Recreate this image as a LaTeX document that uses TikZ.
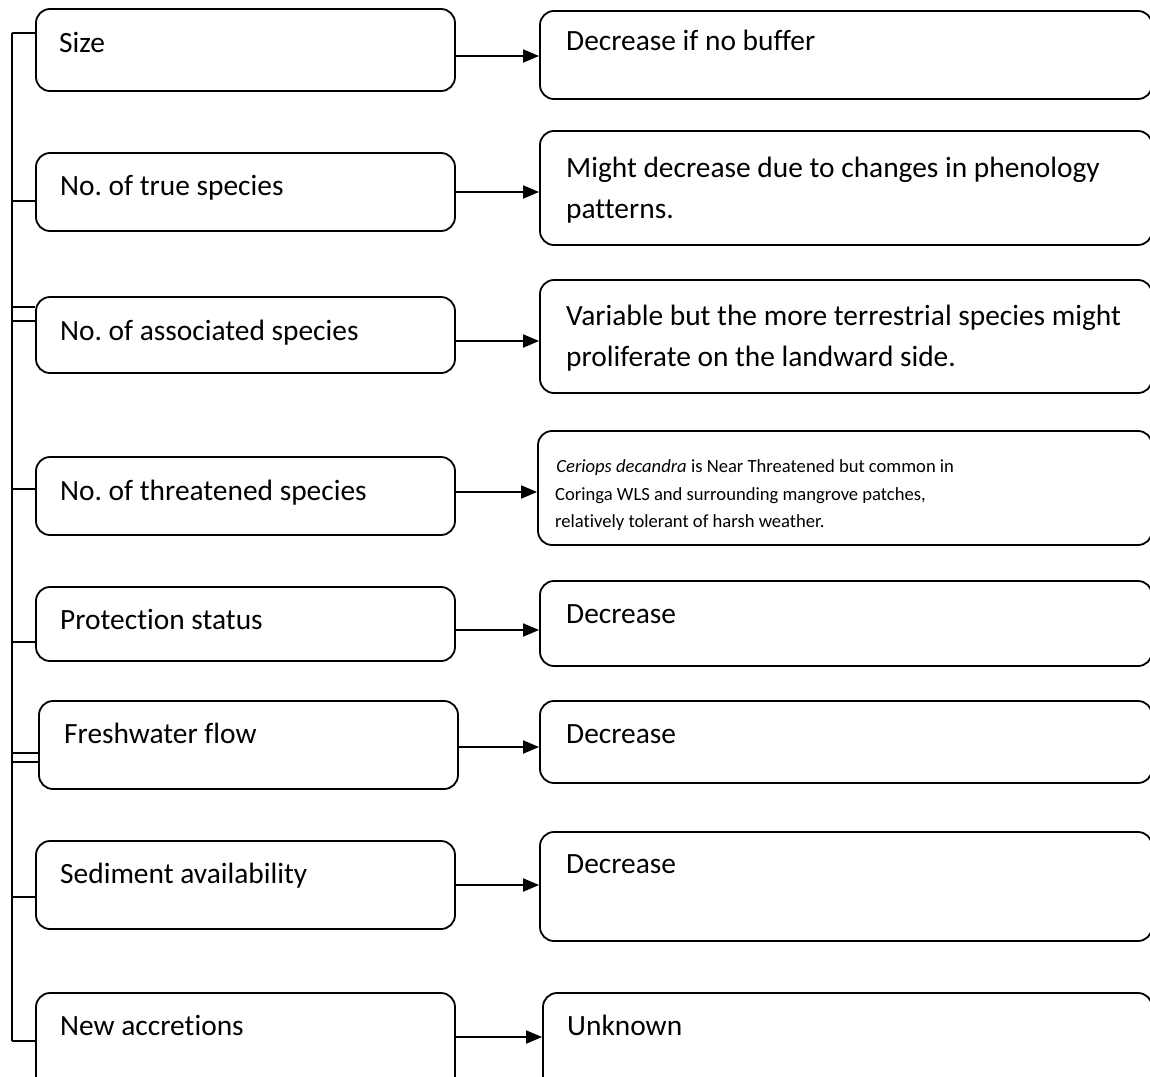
\documentclass[tikz,border=0pt]{standalone}
\usepackage{fontspec}
\setmainfont{Carlito}[Ligatures={NoCommon}]
\usetikzlibrary{arrows.meta}
\frenchspacing
\begin{document}
\begin{tikzpicture}[x=1pt,y=-1pt,
  bx/.style={draw=black,line width=1.8pt,rounded corners=14pt,inner sep=0pt,fill=none},
  lb/.style={bx,minimum width=419pt},
  rb/.style={bx,minimum width=612pt},
  txt/.style={anchor=base west,inner sep=0pt,font=\fontsize{29.4}{34}\selectfont},
  stxt/.style={anchor=base west,inner sep=0pt,font=\fontsize{18.6}{22}\selectfont},
  ln/.style={draw=black,line width=1.8pt},
  arr/.style={draw=black,line width=1.8pt,-{Triangle[length=16pt,width=13pt]}}]
\useasboundingbox (0,0) rectangle (1150,1076);
% left boxes
\node[lb,minimum height=82pt] (L1) at (245.5,50) {};
\node[lb,minimum height=78pt] (L2) at (245.5,192) {};
\node[lb,minimum height=76pt] (L3) at (245.5,335) {};
\node[lb,minimum height=78pt] (L4) at (245.5,496) {};
\node[lb,minimum height=74pt] (L5) at (245.5,624) {};
\node[lb,minimum height=88pt] (L6) at (248.5,745) {};
\node[lb,minimum height=88pt] (L7) at (245.5,885) {};
\node[lb,minimum height=97pt] (L8) at (245.5,1041.5) {};
% right boxes
\node[rb,minimum height=88pt] (R1) at (846,55) {};
\node[rb,minimum height=114pt] (R2) at (846,188) {};
\node[rb,minimum height=113pt] (R3) at (846,336.5) {};
\node[bx,minimum width=614pt,minimum height=114pt] (R4) at (845,488) {};
\node[rb,minimum height=85pt] (R5) at (846,623.5) {};
\node[rb,minimum height=82pt] (R6) at (846,742) {};
\node[rb,minimum height=109pt] (R7) at (846,886.5) {};
\node[bx,minimum width=609pt,minimum height=97pt] (R8) at (847.5,1041.5) {};
% left texts
\node[txt] (t1) at (59,52) {Size};
\node[txt] (t2) at (60,195) {No. of true species};
\node[txt] (t3) at (60,340) {No. of associated species};
\node[txt] (t4) at (60,500) {No. of threatened species};
\node[txt] (t5) at (60,629) {Protection status};
\node[txt] (t6) at (64,743) {Freshwater flow};
\node[txt] (t7) at (60,883) {Sediment availability};
\node[txt] (t8) at (60,1035) {New accretions};
% right texts
\node[txt] (r1) at (566,50) {Decrease if no buffer};
\node[txt] (r2a) at (566,177) {Might decrease due to changes in phenology};
\node[txt] (r2b) at (566,218) {patterns.};
\node[txt] (r3a) at (566,325) {Variable but the more terrestrial species might};
\node[txt] (r3b) at (566,366) {proliferate on the landward side.};
\node[stxt] (r4a) at (552,472) {\ \textit{Ceriops decandra} is Near Threatened but common in};
\node[stxt] (r4b) at (555,500) {Coringa WLS and surrounding mangrove patches,};
\node[stxt] (r4c) at (555,527) {relatively tolerant of harsh weather.};
\node[txt] (r5) at (566,623) {Decrease};
\node[txt] (r6) at (566,743) {Decrease};
\node[txt] (r7) at (566,873) {Decrease};
\node[txt] (r8) at (567,1035) {Unknown};
% bracket
\coordinate (btop) at (12,33);
\coordinate (bbot) at (12,1041);
\draw[ln] (btop) -- (bbot);
\coordinate (b1) at (12,33);
\coordinate (b2) at (12,201);
\coordinate (b3a) at (12,307);
\coordinate (b3b) at (12,321);
\coordinate (b4) at (12,489);
\coordinate (b5) at (12,642);
\coordinate (b6a) at (12,753);
\coordinate (b6b) at (12,762);
\coordinate (b7) at (12,897);
\coordinate (b8) at (12,1041);
\draw[ln] (b1) -- (b1 -| L1.west);
\draw[ln] (b2) -- (b2 -| L2.west);
\draw[ln] (b3a) -- (b3a -| L3.west);
\draw[ln] (b3b) -- (b3b -| L3.west);
\draw[ln] (b4) -- (b4 -| L4.west);
\draw[ln] (b5) -- (b5 -| L5.west);
\draw[ln] (b6a) -- (b6a -| L6.west);
\draw[ln] (b6b) -- (b6b -| L6.west);
\draw[ln] (b7) -- (b7 -| L7.west);
\draw[ln] (b8) -- (b8 -| L8.west);
% arrows
\coordinate (a1) at (0,56);
\coordinate (a2) at (0,192);
\coordinate (a3) at (0,341);
\coordinate (a4) at (0,492);
\coordinate (a5) at (0,630);
\coordinate (a6) at (0,747);
\coordinate (a7) at (0,885);
\coordinate (a8) at (0,1037);
\draw[arr] (a1 -| L1.east) -- (a1 -| R1.west);
\draw[arr] (a2 -| L2.east) -- (a2 -| R2.west);
\draw[arr] (a3 -| L3.east) -- (a3 -| R3.west);
\draw[arr] (a4 -| L4.east) -- (a4 -| R4.west);
\draw[arr] (a5 -| L5.east) -- (a5 -| R5.west);
\draw[arr] (a6 -| L6.east) -- (a6 -| R6.west);
\draw[arr] (a7 -| L7.east) -- (a7 -| R7.west);
\draw[arr] (a8 -| L8.east) -- (a8 -| R8.west);
\end{tikzpicture}
\end{document}
